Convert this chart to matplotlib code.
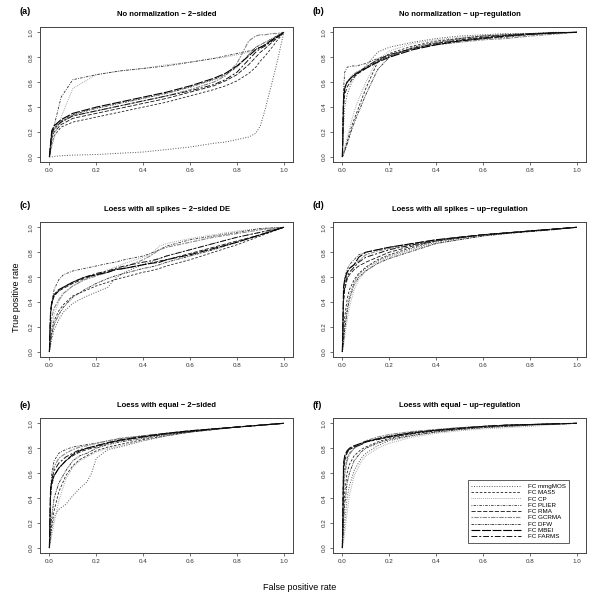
import numpy as np
import matplotlib.pyplot as plt
from matplotlib.ticker import FormatStrFormatter

plt.rcParams['font.family'] = ['Liberation Sans', 'DejaVu Sans']

methods = ["FC mmgMOS", "FC MAS5", "FC CP", "FC PLIER", "FC RMA",
           "FC GCRMA", "FC DFW", "FC MBEI", "FC FARMS"]

# (a) No normalization - 2-sided
fpr_a = [0, 0.01, 0.02, 0.05, 0.1, 0.2, 0.3, 0.4, 0.5, 0.6, 0.7, 0.75, 0.8, 0.85, 0.88, 0.9, 0.92, 0.95, 0.97, 1.0]
tpr_a = {
    "FC mmgMOS": [0, 0.0, 0.005, 0.01, 0.015, 0.02, 0.03, 0.04, 0.06, 0.08, 0.11, 0.12, 0.14, 0.16, 0.19, 0.25, 0.38, 0.6, 0.75, 1.0],
    "FC MAS5":   [0, 0.1, 0.17, 0.24, 0.28, 0.32, 0.36, 0.4, 0.44, 0.49, 0.54, 0.57, 0.61, 0.67, 0.72, 0.77, 0.81, 0.88, 0.93, 1.0],
    "FC CP":     [0, 0.08, 0.15, 0.32, 0.55, 0.66, 0.69, 0.71, 0.74, 0.76, 0.79, 0.8, 0.82, 0.84, 0.86, 0.88, 0.9, 0.94, 0.97, 1.0],
    "FC PLIER":  [0, 0.15, 0.25, 0.48, 0.62, 0.66, 0.69, 0.71, 0.73, 0.76, 0.79, 0.81, 0.83, 0.85, 0.87, 0.88, 0.9, 0.94, 0.97, 1.0],
    "FC RMA":    [0, 0.15, 0.2, 0.26, 0.31, 0.35, 0.39, 0.43, 0.47, 0.52, 0.57, 0.61, 0.66, 0.74, 0.8, 0.84, 0.87, 0.92, 0.95, 1.0],
    "FC GCRMA":  [0, 0.17, 0.22, 0.28, 0.33, 0.37, 0.41, 0.45, 0.49, 0.54, 0.6, 0.65, 0.75, 0.93, 0.97, 0.98, 0.98, 0.99, 0.99, 1.0],
    "FC DFW":    [0, 0.2, 0.24, 0.29, 0.34, 0.39, 0.43, 0.47, 0.51, 0.56, 0.62, 0.66, 0.72, 0.82, 0.88, 0.9, 0.92, 0.95, 0.97, 1.0],
    "FC MBEI":   [0, 0.21, 0.25, 0.3, 0.35, 0.4, 0.44, 0.48, 0.52, 0.57, 0.63, 0.67, 0.73, 0.81, 0.86, 0.88, 0.9, 0.94, 0.96, 1.0],
    "FC FARMS":  [0, 0.19, 0.23, 0.28, 0.33, 0.37, 0.41, 0.45, 0.49, 0.53, 0.58, 0.62, 0.68, 0.78, 0.84, 0.87, 0.89, 0.93, 0.96, 1.0],
}

# (b) No normalization - up-regulation
fpr_b = [0, 0.005, 0.01, 0.02, 0.04, 0.06, 0.1, 0.15, 0.2, 0.3, 0.4, 0.5, 0.6, 0.7, 0.8, 0.9, 1.0]
tpr_b = {
    "FC mmgMOS": [0, 0.25, 0.4, 0.5, 0.6, 0.66, 0.73, 0.84, 0.88, 0.92, 0.95, 0.97, 0.98, 0.99, 0.99, 1.0, 1.0],
    "FC MAS5":   [0, 0.03, 0.06, 0.12, 0.25, 0.35, 0.55, 0.76, 0.83, 0.89, 0.93, 0.95, 0.97, 0.98, 0.99, 0.995, 1.0],
    "FC CP":     [0, 0.04, 0.08, 0.15, 0.3, 0.42, 0.6, 0.78, 0.85, 0.91, 0.94, 0.96, 0.975, 0.985, 0.99, 0.995, 1.0],
    "FC PLIER":  [0, 0.55, 0.68, 0.72, 0.73, 0.73, 0.75, 0.79, 0.82, 0.87, 0.9, 0.93, 0.95, 0.96, 0.98, 0.99, 1.0],
    "FC RMA":    [0, 0.4, 0.5, 0.56, 0.62, 0.66, 0.71, 0.77, 0.81, 0.87, 0.91, 0.94, 0.96, 0.975, 0.985, 0.995, 1.0],
    "FC GCRMA":  [0, 0.45, 0.55, 0.6, 0.65, 0.68, 0.72, 0.78, 0.82, 0.87, 0.9, 0.92, 0.94, 0.95, 0.97, 0.985, 1.0],
    "FC DFW":    [0, 0.02, 0.05, 0.1, 0.22, 0.32, 0.5, 0.7, 0.8, 0.88, 0.92, 0.95, 0.97, 0.98, 0.99, 0.995, 1.0],
    "FC MBEI":   [0, 0.45, 0.55, 0.6, 0.64, 0.67, 0.71, 0.76, 0.8, 0.86, 0.9, 0.93, 0.95, 0.97, 0.985, 0.995, 1.0],
    "FC FARMS":  [0, 0.5, 0.56, 0.6, 0.64, 0.67, 0.72, 0.78, 0.82, 0.87, 0.91, 0.935, 0.955, 0.97, 0.985, 0.995, 1.0],
}

# (c) Loess with all spikes - 2-sided DE
fpr_c = [0, 0.005, 0.01, 0.02, 0.04, 0.06, 0.1, 0.15, 0.2, 0.25, 0.28, 0.32, 0.4, 0.43, 0.47, 0.5, 0.6, 0.7, 0.8, 0.9, 1.0]
tpr_c = {
    "FC mmgMOS": [0, 0.05, 0.1, 0.18, 0.26, 0.32, 0.39, 0.44, 0.48, 0.52, 0.59, 0.64, 0.7, 0.72, 0.75, 0.77, 0.82, 0.87, 0.92, 0.96, 1.0],
    "FC MAS5":   [0, 0.1, 0.17, 0.25, 0.33, 0.38, 0.45, 0.49, 0.53, 0.56, 0.58, 0.6, 0.64, 0.65, 0.67, 0.69, 0.74, 0.8, 0.86, 0.93, 1.0],
    "FC CP":     [0, 0.1, 0.2, 0.3, 0.4, 0.47, 0.53, 0.58, 0.62, 0.66, 0.68, 0.71, 0.76, 0.78, 0.85, 0.87, 0.91, 0.94, 0.97, 0.99, 1.0],
    "FC PLIER":  [0, 0.3, 0.4, 0.5, 0.58, 0.62, 0.65, 0.67, 0.69, 0.71, 0.72, 0.74, 0.77, 0.79, 0.82, 0.85, 0.9, 0.93, 0.96, 0.99, 1.0],
    "FC RMA":    [0, 0.3, 0.38, 0.45, 0.49, 0.51, 0.55, 0.59, 0.62, 0.64, 0.66, 0.67, 0.7, 0.71, 0.73, 0.74, 0.79, 0.84, 0.89, 0.94, 1.0],
    "FC GCRMA":  [0, 0.2, 0.28, 0.35, 0.42, 0.47, 0.53, 0.58, 0.61, 0.64, 0.66, 0.68, 0.74, 0.77, 0.82, 0.84, 0.88, 0.92, 0.95, 0.98, 1.0],
    "FC DFW":    [0, 0.08, 0.14, 0.22, 0.3, 0.36, 0.44, 0.5, 0.55, 0.59, 0.61, 0.63, 0.67, 0.68, 0.7, 0.72, 0.77, 0.82, 0.88, 0.94, 1.0],
    "FC MBEI":   [0, 0.33, 0.4, 0.46, 0.5, 0.52, 0.56, 0.6, 0.62, 0.64, 0.66, 0.67, 0.7, 0.71, 0.72, 0.74, 0.78, 0.83, 0.88, 0.94, 1.0],
    "FC FARMS":  [0, 0.32, 0.39, 0.45, 0.49, 0.52, 0.56, 0.6, 0.63, 0.65, 0.67, 0.69, 0.72, 0.73, 0.75, 0.77, 0.82, 0.87, 0.92, 0.96, 1.0],
}

# (d) Loess with all spikes - up-regulation
fpr_d = [0, 0.005, 0.01, 0.02, 0.03, 0.05, 0.07, 0.1, 0.15, 0.2, 0.3, 0.4, 0.5, 0.6, 0.7, 0.8, 0.9, 1.0]
tpr_d = {
    "FC mmgMOS": [0, 0.1, 0.2, 0.35, 0.45, 0.56, 0.62, 0.67, 0.73, 0.77, 0.83, 0.88, 0.91, 0.935, 0.95, 0.97, 0.985, 1.0],
    "FC MAS5":   [0, 0.15, 0.28, 0.42, 0.5, 0.58, 0.63, 0.68, 0.74, 0.78, 0.84, 0.89, 0.915, 0.94, 0.955, 0.97, 0.985, 1.0],
    "FC CP":     [0, 0.05, 0.12, 0.25, 0.36, 0.5, 0.58, 0.65, 0.72, 0.76, 0.82, 0.87, 0.905, 0.93, 0.95, 0.97, 0.985, 1.0],
    "FC PLIER":  [0, 0.5, 0.6, 0.66, 0.7, 0.74, 0.78, 0.8, 0.82, 0.84, 0.87, 0.9, 0.92, 0.94, 0.955, 0.97, 0.985, 1.0],
    "FC RMA":    [0, 0.4, 0.5, 0.58, 0.62, 0.66, 0.69, 0.72, 0.76, 0.8, 0.85, 0.89, 0.915, 0.94, 0.955, 0.97, 0.985, 1.0],
    "FC GCRMA":  [0, 0.45, 0.55, 0.63, 0.67, 0.7, 0.73, 0.78, 0.81, 0.83, 0.86, 0.895, 0.92, 0.94, 0.955, 0.97, 0.985, 1.0],
    "FC DFW":    [0, 0.08, 0.18, 0.32, 0.42, 0.54, 0.6, 0.65, 0.71, 0.75, 0.81, 0.87, 0.9, 0.93, 0.95, 0.965, 0.98, 1.0],
    "FC MBEI":   [0, 0.52, 0.58, 0.64, 0.67, 0.7, 0.76, 0.8, 0.82, 0.84, 0.87, 0.9, 0.92, 0.94, 0.955, 0.97, 0.985, 1.0],
    "FC FARMS":  [0, 0.42, 0.52, 0.6, 0.64, 0.68, 0.72, 0.76, 0.79, 0.82, 0.86, 0.895, 0.92, 0.94, 0.955, 0.97, 0.985, 1.0],
}

# (e) Loess with equal - 2-sided
fpr_e = [0, 0.005, 0.01, 0.02, 0.04, 0.07, 0.1, 0.13, 0.16, 0.18, 0.2, 0.25, 0.3, 0.4, 0.5, 0.6, 0.7, 0.8, 0.9, 1.0]
tpr_e = {
    "FC mmgMOS": [0, 0.08, 0.15, 0.25, 0.31, 0.35, 0.42, 0.48, 0.53, 0.6, 0.72, 0.79, 0.81, 0.86, 0.9, 0.93, 0.95, 0.97, 0.985, 1.0],
    "FC MAS5":   [0, 0.1, 0.18, 0.3, 0.45, 0.58, 0.66, 0.71, 0.74, 0.76, 0.78, 0.81, 0.83, 0.87, 0.9, 0.93, 0.95, 0.97, 0.985, 1.0],
    "FC CP":     [0, 0.05, 0.1, 0.2, 0.38, 0.55, 0.65, 0.7, 0.73, 0.75, 0.77, 0.8, 0.82, 0.86, 0.9, 0.93, 0.95, 0.97, 0.985, 1.0],
    "FC PLIER":  [0, 0.45, 0.6, 0.7, 0.76, 0.79, 0.81, 0.82, 0.83, 0.835, 0.84, 0.86, 0.875, 0.9, 0.92, 0.94, 0.955, 0.97, 0.985, 1.0],
    "FC RMA":    [0, 0.4, 0.5, 0.58, 0.64, 0.7, 0.74, 0.77, 0.79, 0.8, 0.81, 0.84, 0.86, 0.89, 0.915, 0.935, 0.955, 0.97, 0.985, 1.0],
    "FC GCRMA":  [0, 0.42, 0.55, 0.65, 0.72, 0.76, 0.79, 0.81, 0.82, 0.83, 0.84, 0.86, 0.88, 0.9, 0.92, 0.94, 0.955, 0.97, 0.985, 1.0],
    "FC DFW":    [0, 0.15, 0.25, 0.4, 0.52, 0.62, 0.7, 0.74, 0.76, 0.78, 0.8, 0.83, 0.85, 0.88, 0.91, 0.93, 0.95, 0.97, 0.985, 1.0],
    "FC MBEI":   [0, 0.48, 0.53, 0.58, 0.64, 0.7, 0.75, 0.78, 0.8, 0.81, 0.82, 0.845, 0.865, 0.895, 0.92, 0.94, 0.955, 0.97, 0.985, 1.0],
    "FC FARMS":  [0, 0.45, 0.55, 0.62, 0.68, 0.73, 0.76, 0.79, 0.8, 0.81, 0.82, 0.845, 0.865, 0.89, 0.915, 0.935, 0.955, 0.97, 0.985, 1.0],
}

# (f) Loess with equal - up-regulation
fpr_f = [0, 0.005, 0.01, 0.02, 0.03, 0.05, 0.08, 0.1, 0.15, 0.2, 0.3, 0.4, 0.5, 0.6, 0.7, 0.8, 0.9, 1.0]
tpr_f = {
    "FC mmgMOS": [0, 0.1, 0.2, 0.4, 0.5, 0.62, 0.72, 0.76, 0.82, 0.86, 0.9, 0.93, 0.95, 0.965, 0.975, 0.985, 0.995, 1.0],
    "FC MAS5":   [0, 0.3, 0.45, 0.6, 0.67, 0.74, 0.79, 0.81, 0.85, 0.88, 0.915, 0.94, 0.955, 0.97, 0.98, 0.99, 0.995, 1.0],
    "FC CP":     [0, 0.05, 0.12, 0.28, 0.42, 0.58, 0.69, 0.74, 0.8, 0.84, 0.89, 0.92, 0.94, 0.955, 0.965, 0.975, 0.99, 1.0],
    "FC PLIER":  [0, 0.5, 0.62, 0.72, 0.76, 0.8, 0.83, 0.85, 0.88, 0.9, 0.93, 0.95, 0.965, 0.975, 0.985, 0.99, 0.995, 1.0],
    "FC RMA":    [0, 0.6, 0.7, 0.76, 0.79, 0.81, 0.83, 0.85, 0.87, 0.89, 0.92, 0.945, 0.96, 0.975, 0.985, 0.99, 0.995, 1.0],
    "FC GCRMA":  [0, 0.45, 0.58, 0.7, 0.75, 0.8, 0.84, 0.86, 0.89, 0.91, 0.935, 0.95, 0.965, 0.975, 0.985, 0.99, 0.995, 1.0],
    "FC DFW":    [0, 0.2, 0.35, 0.52, 0.6, 0.7, 0.77, 0.8, 0.84, 0.87, 0.905, 0.93, 0.95, 0.965, 0.975, 0.985, 0.995, 1.0],
    "FC MBEI":   [0, 0.68, 0.74, 0.78, 0.8, 0.82, 0.84, 0.855, 0.875, 0.895, 0.925, 0.945, 0.96, 0.975, 0.985, 0.99, 0.995, 1.0],
    "FC FARMS":  [0, 0.65, 0.72, 0.77, 0.79, 0.81, 0.83, 0.85, 0.87, 0.89, 0.92, 0.94, 0.96, 0.975, 0.985, 0.99, 0.995, 1.0],
}

titles = ["No normalization \u2212 2\u2212sided", "No normalization \u2212 up\u2212regulation",
          "Loess with all spikes \u2212 2\u2212sided DE", "Loess with all spikes \u2212 up\u2212regulation",
          "Loess with equal \u2212 2\u2212sided", "Loess with equal \u2212 up\u2212regulation"]
letters = ["(a)", "(b)", "(c)", "(d)", "(e)", "(f)"]
panels = [(fpr_a, tpr_a), (fpr_b, tpr_b), (fpr_c, tpr_c),
          (fpr_d, tpr_d), (fpr_e, tpr_e), (fpr_f, tpr_f)]

# R-like line types
styles = {
    "FC mmgMOS": dict(ls=(0, (1, 1.6)), color='#555555', lw=0.7),
    "FC MAS5":   dict(ls=(0, (3, 2)), color='#222222', lw=0.6),
    "FC CP":     dict(ls=(0, (0.8, 1.2)), color='#999999', lw=0.7),
    "FC PLIER":  dict(ls=(0, (1, 1.5, 3, 1.5)), color='#333333', lw=0.6),
    "FC RMA":    dict(ls=(0, (5, 2)), color='#111111', lw=0.6),
    "FC GCRMA":  dict(ls=(0, (1.5, 1, 4, 1)), color='#888888', lw=0.8),
    "FC DFW":    dict(ls=(0, (3, 1, 1, 1, 1, 1)), color='#222222', lw=0.6),
    "FC MBEI":   dict(ls=(0, (8, 1.5)), color='#000000', lw=0.8),
    "FC FARMS":  dict(ls=(0, (6, 2, 2, 2)), color='#111111', lw=0.7),
}

fig = plt.figure(figsize=(6, 6), dpi=100)
lefts = [0.0667, 0.555]
bottoms = [0.73, 0.405, 0.0783]
w, h = 0.422, 0.2245
letter_y = [1 - 12 / 600, 1 - 205 / 600, 1 - 405 / 600]

for i, (fpr, tpr) in enumerate(panels):
    r, c = divmod(i, 2)
    ax = fig.add_axes([lefts[c], bottoms[r], w, h])
    for m in methods:
        ax.plot(fpr, tpr[m], label=m, **styles[m])
    ax.set_xlim(-0.04, 1.04)
    ax.set_ylim(-0.04, 1.04)
    ax.set_xticks(np.arange(0, 1.01, 0.2))
    ax.set_yticks(np.arange(0, 1.01, 0.2))
    ax.xaxis.set_major_formatter(FormatStrFormatter('%.1f'))
    ax.yaxis.set_major_formatter(FormatStrFormatter('%.1f'))
    ax.tick_params(labelsize=4.5, length=2.5, width=0.5, pad=2, colors='#333333')
    for lab in ax.get_yticklabels():
        lab.set_rotation(90)
        lab.set_va('center')
    for s in ax.spines.values():
        s.set_linewidth(0.7)
        s.set_color('#444444')
    ax.set_title(titles[i], fontsize=5.5, fontweight='bold', pad=8)
    fig.text(lefts[c] - 0.034, letter_y[r], letters[i],
             fontsize=6.5, fontweight='bold', va='center')
    if i == 5:
        leg = ax.legend(loc='lower right', bbox_to_anchor=(0.945, 0.05),
                        fontsize=4.5, handlelength=8, frameon=True, fancybox=False,
                        borderpad=0.6, labelspacing=0.15, handletextpad=1.0)
        leg.get_frame().set_edgecolor('#333333')
        leg.get_frame().set_linewidth(0.7)

fig.text(0.027, 0.505, "True positive rate", rotation=90, fontsize=6.5,
         ha='center', va='center')
fig.text(0.5, 0.02, "False positive rate", fontsize=6.5, ha='center', va='center')

fig.savefig("out.png", dpi=100)
